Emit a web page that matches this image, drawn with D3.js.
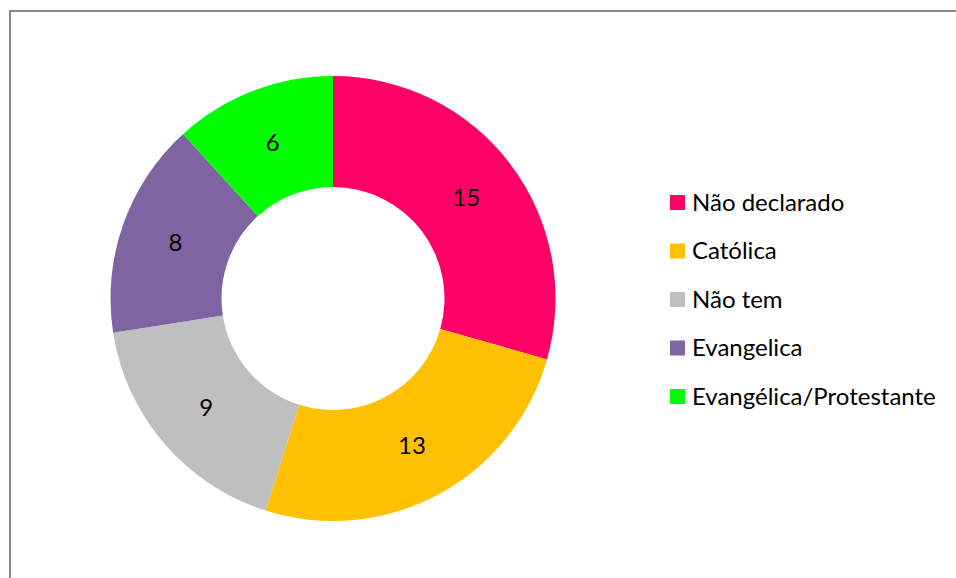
<!DOCTYPE html>
<html><head><meta charset="utf-8">
<script src="https://cdn.jsdelivr.net/npm/d3@7"></script>
<style>
html,body{margin:0;padding:0;background:#fff;}
svg{display:block;}
text{font-family:Lato, "Open Sans", sans-serif;}
</style></head>
<body>
<svg id="chart" width="956" height="578"></svg>
<script>
const categories = ["Não declarado", "Católica", "Não tem", "Evangelica", "Evangélica/Protestante"];
const values = [15, 13, 9, 8, 6];
const colors = ["#FF0066", "#FFC000", "#BFBFBF", "#8064A2", "#00FF00"];

const svg = d3.select("#chart");
svg.append("rect").attr("x", 10).attr("y", 11).attr("width", 1000).attr("height", 1000)
  .attr("fill", "#fff").attr("stroke", "#898989").attr("stroke-width", 2);

const cx = 333, cy = 298.5, outerR = 222.5, innerR = 111.5;
const data = categories.map((c, i) => ({ cat: c, value: values[i], color: colors[i] }));
const pie = d3.pie().value(d => d.value).sort(null);
const arc = d3.arc().innerRadius(innerR).outerRadius(outerR);
const labelArc = d3.arc().innerRadius(167).outerRadius(167);

const g = svg.append("g").attr("transform", `translate(${cx},${cy})`);
const arcs = pie(data);
g.selectAll("path").data(arcs).enter().append("path")
  .attr("d", arc).attr("fill", d => d.data.color);
g.selectAll("text").data(arcs).enter().append("text")
  .attr("transform", d => `translate(${labelArc.centroid(d)})`)
  .attr("text-anchor", "middle").attr("dy", "0.35em")
  .attr("font-size", 24).attr("fill", "#000")
  .text(d => d.data.value);

const legend = svg.append("g").attr("transform", "translate(670,195)");
const rows = legend.selectAll("g").data(data).enter().append("g")
  .attr("transform", (d, i) => `translate(0,${i * 48.5})`);
rows.append("rect").attr("width", 15).attr("height", 15).attr("fill", d => d.color);
rows.append("text").attr("x", 22).attr("y", 7.5).attr("dy", "0.35em")
  .attr("font-size", 24).attr("fill", "#000").text(d => d.cat);
</script>
</body></html>
